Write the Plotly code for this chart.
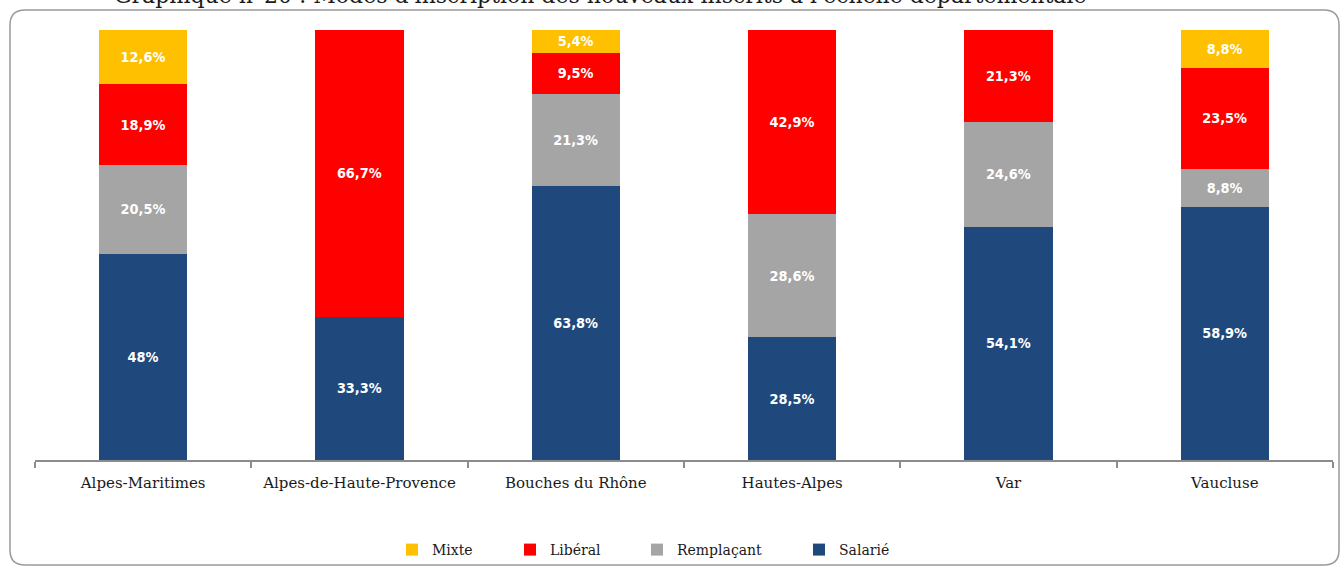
import plotly.graph_objects as go

categories = ["Alpes-Maritimes", "Alpes-de-Haute-Provence", "Bouches du Rhône",
              "Hautes-Alpes", "Var", "Vaucluse"]
salarie = [48.0, 33.3, 63.8, 28.5, 54.1, 58.9]
remplacant = [20.5, None, 21.3, 28.6, 24.6, 8.8]
liberal = [18.9, 66.7, 9.5, 42.9, 21.3, 23.5]
mixte = [12.6, None, 5.4, None, None, 8.8]

series_names = ["Salarié", "Remplaçant", "Libéral", "Mixte"]
series_values = [salarie, remplacant, liberal, mixte]
series_colors = ["#1F497D", "#A5A5A5", "#FF0000", "#FFC000"]
legend_ids = ["legend4", "legend3", "legend2", "legend"]
legend_x_px = [818, 656, 529, 411]

title_text = "Graphique n°20 : Modes d'inscription des nouveaux inscrits à l'échelle départementale"

W, H = 1340, 568
ML, MR, MT, MB = 35, 7, 30, 108
PW = W - ML - MR
PH = H - MT - MB


def px_x(x):
    return (x - ML) / PW


def px_y(y):
    return (H - MB - y) / PH


def fmt(v):
    if v is None:
        return ""
    if float(v).is_integer():
        return f"{int(v)}%"
    return f"{v:.1f}".replace(".", ",") + "%"


label_font = dict(family="Liberation Sans Narrow, DejaVu Sans Condensed, Liberation Sans, Arial, sans-serif",
                  size=15, color="white", weight="bold")
serif = "DejaVu Serif, Liberation Serif, serif"

fig = go.Figure()
for name, vals, col, lg in zip(series_names, series_values, series_colors, legend_ids):
    fig.add_trace(go.Bar(
        x=categories, y=vals, name=name,
        marker=dict(color=col, line=dict(width=0)),
        text=[fmt(v) for v in vals],
        textposition="inside", insidetextanchor="middle",
        textfont=label_font, textangle=0,
        legend=lg,
    ))

legend_common = dict(orientation="h", yanchor="middle", xanchor="left",
                     font=dict(family=serif, size=14, color="#1a1a1a"),
                     bgcolor="rgba(0,0,0,0)", itemwidth=30)
layout_legends = {}
for lg, xp in zip(legend_ids, legend_x_px):
    layout_legends[lg] = dict(legend_common, x=px_x(xp - 19), y=px_y(550))

# rounded border
x0, x1 = px_x(10), px_x(1339)
y0, y1 = px_y(565), px_y(10)
rx, ry = 15 / PW, 15 / PH
path = (f"M {x0+rx},{y1} L {x1-rx},{y1} Q {x1},{y1} {x1},{y1-ry} "
        f"L {x1},{y0+ry} Q {x1},{y0} {x1-rx},{y0} L {x0+rx},{y0} "
        f"Q {x0},{y0} {x0},{y0+ry} L {x0},{y1-ry} Q {x0},{y1} {x0+rx},{y1} Z")

fig.update_layout(
    width=W, height=H,
    margin=dict(l=ML, r=MR, t=MT, b=MB, autoexpand=False),
    paper_bgcolor="white", plot_bgcolor="white",
    barmode="stack", bargap=0.593,
    showlegend=True,
    uniformtext=dict(minsize=8, mode="show"),
    xaxis=dict(showline=True, linecolor="#8c8c8c", linewidth=2,
               ticks="outside", tickson="boundaries", ticklen=6, tickcolor="#8c8c8c",
               tickwidth=1.5, ticklabelstandoff=8,
               tickfont=dict(family=serif, size=15, color="#1a1a1a"),
               showgrid=False, zeroline=False, fixedrange=True, automargin=False),
    yaxis=dict(range=[0, 100], visible=False, showgrid=False, fixedrange=True),
    shapes=[dict(type="path", xref="paper", yref="paper", path=path,
                 line=dict(color="#9a9a9a", width=1.5), fillcolor="rgba(0,0,0,0)",
                 layer="below")],
    annotations=[
        dict(text=title_text, xref="paper", yref="paper", x=px_x(112), y=px_y(10),
             xanchor="left", yanchor="bottom", showarrow=False,
             font=dict(family=serif, size=22, color="#1a1a1a")),
        dict(text="➔", xref="paper", yref="paper", x=px_x(66), y=px_y(6),
             xanchor="left", yanchor="bottom", showarrow=False,
             font=dict(family="DejaVu Sans", size=16, color="#1f1fa0")),
    ],
    **layout_legends,
)

fig.write_html("out.html", config={"displayModeBar": False},
               post_script="document.body.style.margin='0px';")
